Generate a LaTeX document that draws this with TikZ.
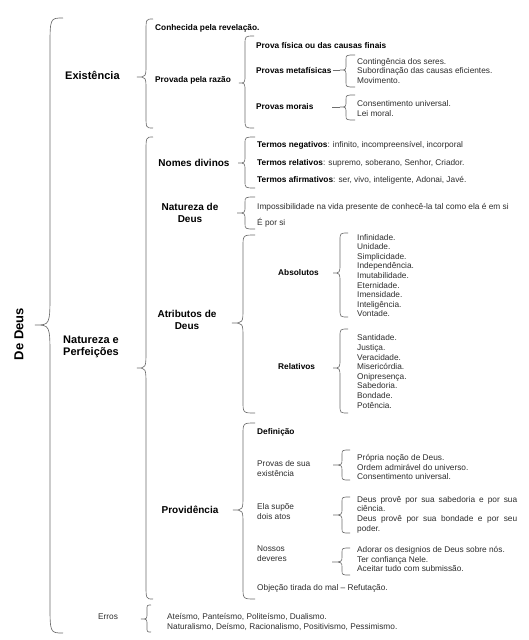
\documentclass[tikz,border=0pt]{standalone}
\usepackage{fontspec}
\setmainfont{Liberation Sans}
\setlength{\parindent}{0pt}
\hyphenpenalty=10000
\exhyphenpenalty=10000
\definecolor{linegray}{HTML}{6E6E6E}
\definecolor{txtgray}{HTML}{2E2E2E}
\newcommand{\mybr}[9]{%
  \coordinate (#1) at (#4,#6);
  \draw[brc] (#2,#5) .. controls (#3,#5) .. (#3,#5+#8) -- (#3,#6-#9) .. controls (#3,#6) .. (#1)
    .. controls (#3,#6) .. (#3,#6+#9) -- (#3,#7-#8) .. controls (#3,#7) .. (#2,#7);}
\tikzset{
  brc/.style={draw=linegray, line width=0.65pt},
  sm/.style={font=\fontsize{8.3}{9.5}\selectfont, inner sep=0pt, anchor=west, text=txtgray, align=left},
  smb/.style={sm, font=\fontsize{8.3}{9.5}\selectfont\bfseries, text=black},
  hA/.style={font=\fontsize{11}{12}\selectfont\bfseries, inner sep=0pt, align=left, text=black},
  hB/.style={font=\fontsize{10}{12}\selectfont\bfseries, inner sep=0pt, align=center, text=black},
}
\begin{document}
\begin{tikzpicture}[x=1pt,y=-1pt]
\useasboundingbox[fill=white] (0,0) rectangle (529,640);
% level 1
\node[hA, font=\fontsize{13}{14}\selectfont\bfseries, rotate=90] (dd) at (19,334) {De Deus};
\mybr{b0}{63}{50}{35}{18}{325}{633}{30}{33}
% level 2
\node[hA, anchor=west] (ex) at (65,75) {Existência};
\node[hA, anchor=west] (np) at (63,347) {Natureza e\\Perfeições};
\node[sm, anchor=center] (er) at (108,617) {Erros};
\mybr{b1}{153}{146}{137}{19}{77}{128}{13}{13}
\mybr{b2}{153}{146}{137}{137}{368}{599}{15}{18}
\mybr{b3}{151}{147}{141}{605}{619}{632}{5}{6}
% Existencia
\node[smb] (co) at (155,28) {Conhecida pela revelação.};
\node[smb] (pr) at (155,80) {Provada pela razão};
\mybr{b4}{254}{245}{239}{36}{83}{128}{9}{9}
\node[smb] (pf) at (256,45) {Prova física ou das causas finais};
\node[smb] (pm) at (256,70) {Provas metafísicas};
\node[smb] (pmo) at (256,107) {Provas morais};
\mybr{b5}{355}{346}{340}{55}{70}{87}{5}{6}
\mybr{b6}{355}{346}{340}{95}{107}{120}{5}{6}
\coordinate (mol) at (332,107);
\draw[brc, shorten <=1pt] (pm.east) -- (b5);
\draw[brc] (mol) -- (b6);
\node[sm] (lm) at (357,71) {Contingência dos seres.\\Subordinação das causas eficientes.\\Movimento.};
\node[sm] (lmo) at (357,108.5) {Consentimento universal.\\Lei moral.};
% Natureza e Perfeicoes
\node[hB] (nd) at (194,163) {Nomes divinos};
\node[hB] (nz) at (190,213) {Natureza de\\Deus};
\node[hB] (at) at (187,320) {Atributos de\\Deus};
\node[hB] (pv) at (190,510) {Providência};
\mybr{b7}{255}{245}{238}{137}{163}{188}{7}{8}
\mybr{b8}{255}{245}{237}{197}{213}{229}{6}{7}
\mybr{b9}{255}{243}{232}{235}{323}{413}{12}{15}
\mybr{b12}{255}{243}{233}{423}{510}{599}{12}{15}
\node[sm] (t1) at (257,145) {\textbf{\color{black}Termos negativos}: infinito, incompreensível, incorporal};
\node[sm] (t2) at (257,163) {\textbf{\color{black}Termos relativos}: supremo, soberano, Senhor, Criador.};
\node[sm] (t3) at (257,180) {\textbf{\color{black}Termos afirmativos}: ser, vivo, inteligente, Adonai, Javé.};
\node[sm] (n1) at (257,207) {Impossibilidade na vida presente de conhecê-la tal como ela é em si};
\node[sm] (n2) at (257,223) {É por si};
% Atributos
\node[smb] (ab) at (278,273) {Absolutos};
\node[smb] (re) at (278,367) {Relativos};
\mybr{b10}{348}{340}{333}{233}{273}{317}{8}{10}
\mybr{b11}{348}{340}{333}{329}{368}{413}{8}{10}
\node[sm, font=\fontsize{8.3}{9.6}\selectfont] (la) at (357,275.5) {Infinidade.\\Unidade.\\Simplicidade.\\Independência.\\Imutabilidade.\\Eternidade.\\Imensidade.\\Inteligência.\\Vontade.};
\node[sm, font=\fontsize{8.3}{9.6}\selectfont] (lr) at (357,371.5) {Santidade.\\Justiça.\\Veracidade.\\Misericórdia.\\Onipresença.\\Sabedoria.\\Bondade.\\Potência.};
% Providencia
\node[smb] (df) at (257,432) {Definição};
\node[sm, font=\fontsize{8.3}{10}\selectfont] (pe) at (257,469) {Provas de sua\\existência};
\node[sm, font=\fontsize{8.3}{10}\selectfont] (es) at (257,512) {Ela supõe\\dois atos};
\node[sm, font=\fontsize{8.3}{10}\selectfont] (nv) at (257,554) {Nossos\\deveres};
\node[sm] (ob) at (257,588) {Objeção tirada do mal – Refutação.};
\mybr{b13}{350}{342}{333}{450}{465}{480}{5}{6}
\mybr{b14}{350}{342}{333}{497}{515}{533}{5}{7}
\mybr{b15}{350}{342}{332}{548}{562}{575}{5}{6}
\node[sm] (lpe) at (357,467) {Própria noção de Deus.\\Ordem admirável do universo.\\Consentimento universal.};
\node[sm, text width=160pt, align=justify, font=\fontsize{8.3}{9.6}\selectfont] (ldp) at (357,514.5) {Deus provê por sua sabedoria e por sua ciência.\par Deus provê por sua bondade e por seu poder.};
\node[sm, font=\fontsize{8.3}{9.2}\selectfont] (lnv) at (357,559) {Adorar os designios de Deus sobre nós.\\Ter confiança Nele.\\Aceitar tudo com submissão.};
% Erros
\node[sm, font=\fontsize{8.3}{10}\selectfont] (ler) at (167,622) {Ateísmo, Panteísmo, Politeísmo, Dualismo.\\Naturalismo, Deísmo, Racionalismo, Positivismo, Pessimismo.};
\end{tikzpicture}
\end{document}
